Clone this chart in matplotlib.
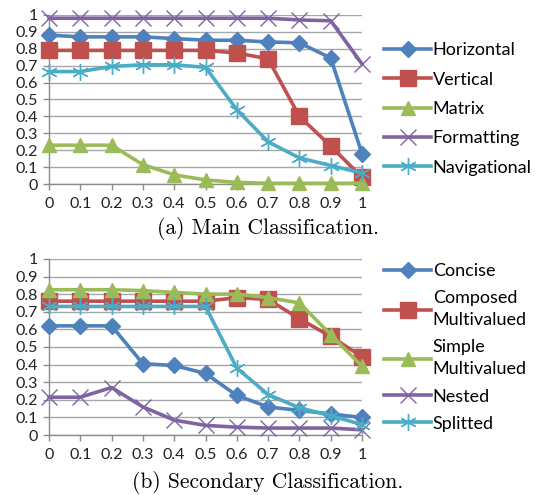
import matplotlib
matplotlib.use("Agg")
import matplotlib.pyplot as plt

# x values (threshold)
x_vals = [0, 0.1, 0.2, 0.3, 0.4, 0.5, 0.6, 0.7, 0.8, 0.9, 1]
x_labels = ["0", "0.1", "0.2", "0.3", "0.4", "0.5", "0.6", "0.7", "0.8", "0.9", "1"]
y_labels = ["0", "0.1", "0.2", "0.3", "0.4", "0.5", "0.6", "0.7", "0.8", "0.9", "1"]

# (a) main classification
horizontal = [0.88, 0.87, 0.87, 0.87, 0.86, 0.85, 0.85, 0.84, 0.835, 0.745, 0.18]
vertical = [0.79, 0.79, 0.79, 0.79, 0.79, 0.79, 0.775, 0.74, 0.40, 0.225, 0.04]
matrix = [0.23, 0.23, 0.23, 0.115, 0.055, 0.025, 0.01, 0.005, 0.005, 0.005, 0.005]
formatting = [0.98, 0.98, 0.98, 0.98, 0.98, 0.98, 0.98, 0.98, 0.97, 0.965, 0.71]
navigational = [0.665, 0.665, 0.695, 0.705, 0.705, 0.69, 0.44, 0.25, 0.155, 0.11, 0.065]

# (b) secondary classification
concise = [0.62, 0.62, 0.62, 0.405, 0.395, 0.35, 0.225, 0.16, 0.14, 0.12, 0.10]
composed = [0.76, 0.76, 0.76, 0.76, 0.76, 0.76, 0.78, 0.77, 0.66, 0.56, 0.445]
simple = [0.825, 0.825, 0.825, 0.82, 0.81, 0.80, 0.80, 0.78, 0.75, 0.57, 0.39]
nested = [0.215, 0.215, 0.27, 0.16, 0.085, 0.055, 0.045, 0.04, 0.04, 0.04, 0.03]
splitted = [0.73, 0.73, 0.73, 0.73, 0.73, 0.73, 0.38, 0.23, 0.155, 0.11, 0.06]

BLUE = "#4F81BD"
RED = "#C0504D"
GREEN = "#9BBB59"
PURPLE = "#8064A2"
CYAN = "#4BACC6"

TICKFONT = "Lato"
STAR = (6, 2, 0)

fig = plt.figure(figsize=(5.36, 4.95), dpi=100)


def style_axes(ax):
    ax.set_xlim(0, 1)
    ax.set_ylim(0, 1)
    ax.set_xticks(x_vals)
    ax.set_xticklabels(x_labels, fontfamily=TICKFONT, fontsize=11.5, color="#222222")
    ax.set_yticks(x_vals)
    ax.set_yticklabels(y_labels, fontfamily=TICKFONT, fontsize=11.5, color="#222222")
    ax.grid(axis="y", color="#A6A6A6", linewidth=1.0)
    ax.set_axisbelow(True)
    for s in ["top", "right"]:
        ax.spines[s].set_visible(False)
    for s in ["left", "bottom"]:
        ax.spines[s].set_color("#8C8C8C")
        ax.spines[s].set_linewidth(1.0)
    ax.tick_params(axis="both", direction="out", length=4, color="#8C8C8C", width=1)
    ax.tick_params(axis="x", pad=5)
    ax.tick_params(axis="y", pad=4)


def draw(ax, ys, color, marker, ms, label, mew=1.0):
    ax.plot(x_vals, ys, color=color, linewidth=2.6, marker=marker, markersize=ms,
            markerfacecolor=color, markeredgecolor=color, markeredgewidth=mew,
            label=label, clip_on=False, zorder=3)


def make_legend(ax, y_center, spacing, linesp):
    leg = ax.legend(loc="center left", bbox_to_anchor=(0.703, y_center),
                    bbox_transform=fig.transFigure, frameon=False,
                    prop={"family": TICKFONT, "size": 13}, handlelength=2.6,
                    handletextpad=0.1, labelspacing=spacing, borderaxespad=0)
    for t in leg.get_texts():
        t.set_linespacing(linesp)
    return leg


# --- (a) Main Classification ---
ax1 = fig.add_axes([0.0914, 0.628, 0.584, 0.342])
draw(ax1, horizontal, BLUE, "D", 8, "Horizontal")
draw(ax1, vertical, RED, "s", 11, "Vertical")
draw(ax1, matrix, GREEN, "^", 10, "Matrix")
draw(ax1, formatting, PURPLE, "x", 11, "Formatting")
draw(ax1, navigational, CYAN, STAR, 12, "Navigational")
style_axes(ax1)
make_legend(ax1, 0.780, 0.74, 1.25)
fig.text(0.5, 0.539, "(a) Main Classification.", ha="center", va="center",
         fontfamily="cmr10", fontsize=15.5)

# --- (b) Secondary Classification ---
ax2 = fig.add_axes([0.0914, 0.121, 0.584, 0.356])
draw(ax2, concise, BLUE, "D", 8, "Concise")
draw(ax2, composed, RED, "s", 11, "Composed\nMultivalued")
draw(ax2, simple, GREEN, "^", 10, "Simple\nMultivalued")
draw(ax2, nested, PURPLE, "x", 11, "Nested")
draw(ax2, splitted, CYAN, STAR, 12, "Splitted")
style_axes(ax2)
make_legend(ax2, 0.298, 0.62, 1.45)
fig.text(0.5, 0.026, "(b) Secondary Classification.", ha="center", va="center",
         fontfamily="cmr10", fontsize=15.5)

fig.savefig("out.png", dpi=100)
